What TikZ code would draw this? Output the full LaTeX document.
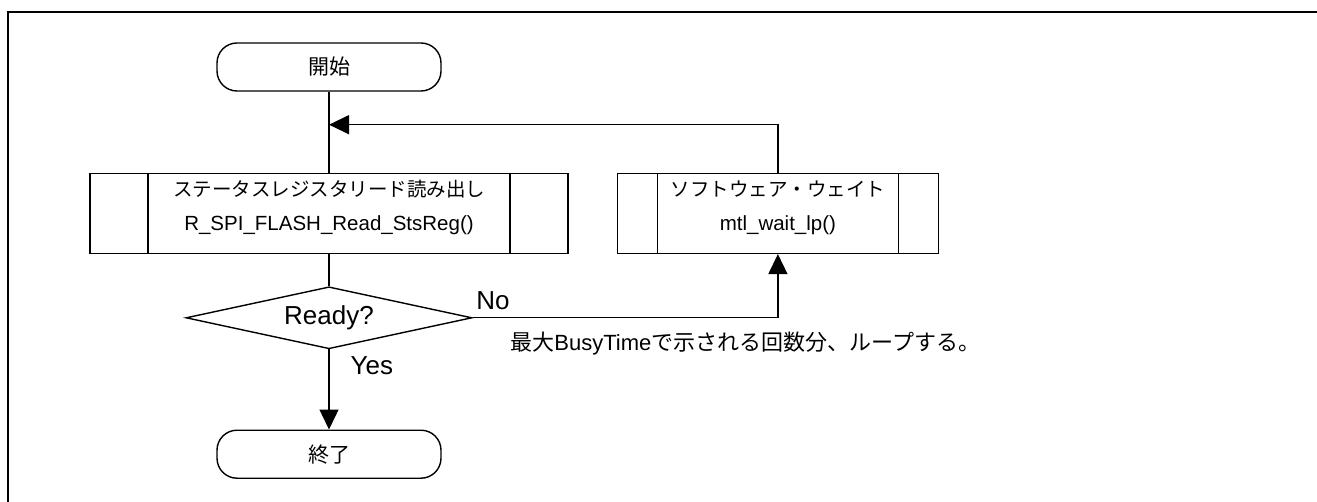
\documentclass[tikz,border=0pt]{standalone}
\usepackage{fontspec}
\setmainfont{Liberation Sans}
\newfontfamily\jp{Noto Sans CJK JP}
\newcommand{\jpbox}{\jp\fontsize{19.5}{34}\selectfont}
\usetikzlibrary{
	shapes.geometric,
	positioning,
	arrows.meta
}
\tikzset{
	terminal/.style={draw,rectangle,rounded corners=20pt,minimum width=224pt,minimum height=48pt,inner sep=0pt,font=\jp\fontsize{21}{25}\selectfont},
	predef/.style={draw,rectangle,minimum height=80pt,inner sep=0pt,
		path picture={\draw[line width=1.4pt]
			([xshift=#1]path picture bounding box.north west) -- ([xshift=#1]path picture bounding box.south west)
			([xshift=-#1]path picture bounding box.north east) -- ([xshift=-#1]path picture bounding box.south east);}},
	decision/.style={draw,diamond,shape aspect=4.6,minimum width=286pt,minimum height=62pt,inner sep=0pt,font=\fontsize{26}{30}\selectfont},
	boxtext/.style={align=center,yshift=6pt,inner sep=0pt,font=\fontsize{20.5}{34}\selectfont},
	bigtext/.style={inner sep=0pt,font=\fontsize{26}{30}\selectfont},
	flow/.style={-{Triangle[length=20pt,width=19pt]}}
}

\begin{document}
\begin{tikzpicture}[x=1pt,y=-1pt,line width=1.4pt]
	\useasboundingbox (0,0) rectangle (1317,502);
	\draw[line width=2pt] (7.5,510) -- (7.5,12) -- (1330,12);

	\draw
		node [terminal]                                        (start)   at (329,67) {開始}
		node [predef=58pt,minimum width=478pt,below=81pt of start,
			label={[boxtext]center:{{\jpbox ステータスレジスタリード読み出し}\\R\_SPI\_FLASH\_Read\_StsReg()}}] (readsts) {}
		node [predef=40pt,minimum width=321pt,right=48pt of readsts,
			label={[boxtext]center:{{\jpbox ソフトウェア・ウェイト}\\mtl\_wait\_lp()}}] (swwait) {}
		node [decision,below=32pt of readsts]                  (ready)   {Ready?}
		node [terminal,below=80pt of ready]                    (stop)    {終了}

		(start)   edge                                       (readsts)
		(readsts) edge                                       (ready)
		(ready)   edge [flow] node [bigtext,pos=0.2,anchor=west,xshift=21pt] {Yes} (stop)
	;

	\coordinate [below=33pt of start.south] (join);
	\draw[flow] (swwait.north) |- (join);
	\draw[flow] (ready.east) -| (swwait.south);

	\node [bigtext,anchor=south west] (no) at ([xshift=3pt,yshift=7pt]ready.east) {No};
	\node [inner sep=0pt,anchor=west,font=\fontsize{22}{26}\selectfont] (note) at ([xshift=37pt,yshift=-26pt]ready.east)
		{{\jp 最大}BusyTime{\jp で示される回数分、ループする。}};
\end{tikzpicture}
\end{document}
